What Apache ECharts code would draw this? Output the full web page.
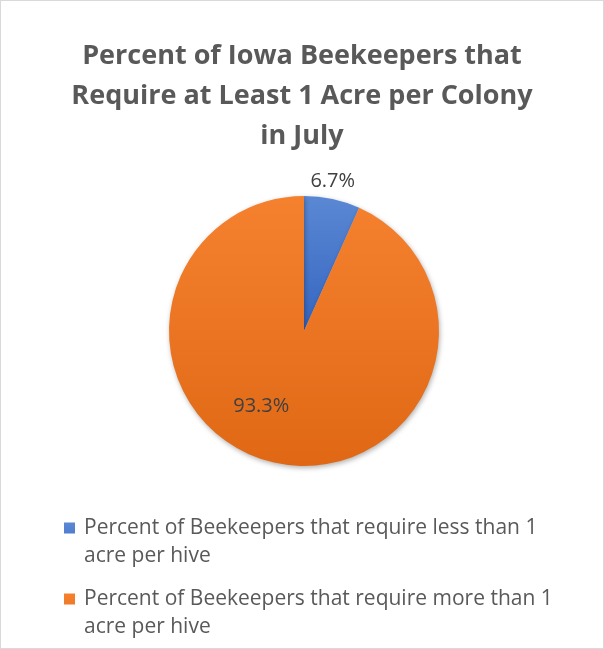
<!DOCTYPE html>
<html>
<head>
<meta charset="utf-8">
<script src="https://cdn.jsdelivr.net/npm/echarts@6/dist/echarts.min.js"></script>
<style>
  html, body { margin: 0; padding: 0; background: #fff; }
  #chart { width: 604px; height: 649px; box-sizing: border-box; border: 1px solid #d9d9d9; }
</style>
</head>
<body>
<div id="chart"></div>
<script>
// 数据
var categories = [
    'Percent of Beekeepers that require less than 1 acre per hive',
    'Percent of Beekeepers that require more than 1 acre per hive'
];
var values = [6.7, 93.3];
var titleText = 'Percent of Iowa Beekeepers that\nRequire at Least 1 Acre per Colony\nin July';

function grad(top, bottom) {
    return new echarts.graphic.LinearGradient(0, 0, 0, 1, [
        { offset: 0, color: top },
        { offset: 1, color: bottom }
    ]);
}

// 图例方块放在第一行文字旁（路径里多一个看不见的点把高度撑开）
var legendIcon = 'path://M0,0H11V11H0ZM0,39L0.01,39Z';

var chart = echarts.init(document.getElementById('chart'));
var option = {
    animation: false,
    title: {
        text: titleText,
        left: 'center',
        top: 30,
        textStyle: {
            fontFamily: 'Open Sans',
            fontSize: 27,
            fontWeight: 'bold',
            color: '#595959',
            lineHeight: 40
        }
    },
    legend: {
        orient: 'vertical',
        left: 63,
        top: 513,
        padding: 0,
        icon: legendIcon,
        itemWidth: 11,
        itemHeight: 39,
        itemGap: 15,
        data: categories,
        textStyle: {
            fontFamily: 'Open Sans',
            fontSize: 21,
            color: '#595959',
            width: 476,
            overflow: 'break',
            lineHeight: 28,
            padding: [0, 0, 0, 4]
        }
    },
    series: [{
        type: 'pie',
        center: [303, 330],
        radius: 135,
        startAngle: 90,
        clockwise: true,
        legendHoverLink: false,
        itemStyle: {
            shadowBlur: 5,
            shadowColor: 'rgba(0,0,0,0.3)',
            shadowOffsetX: 1,
            shadowOffsetY: 2
        },
        label: {
            show: true,
            position: 'inside',
            formatter: function (p) { return p.value.toFixed(1) + '%'; },
            fontFamily: 'Open Sans',
            fontSize: 20,
            color: '#404040'
        },
        labelLine: { show: false },
        data: [
            {
                name: categories[0],
                value: values[0],
                itemStyle: { color: grad('#5b88d4', '#3465c0') },
                label: { offset: [14, -81] }
            },
            {
                name: categories[1],
                value: values[1],
                itemStyle: { color: grad('#f5812f', '#e06815') },
                label: { offset: [-28, 6] }
            }
        ]
    }]
};
chart.setOption(option);
</script>
</body>
</html>
